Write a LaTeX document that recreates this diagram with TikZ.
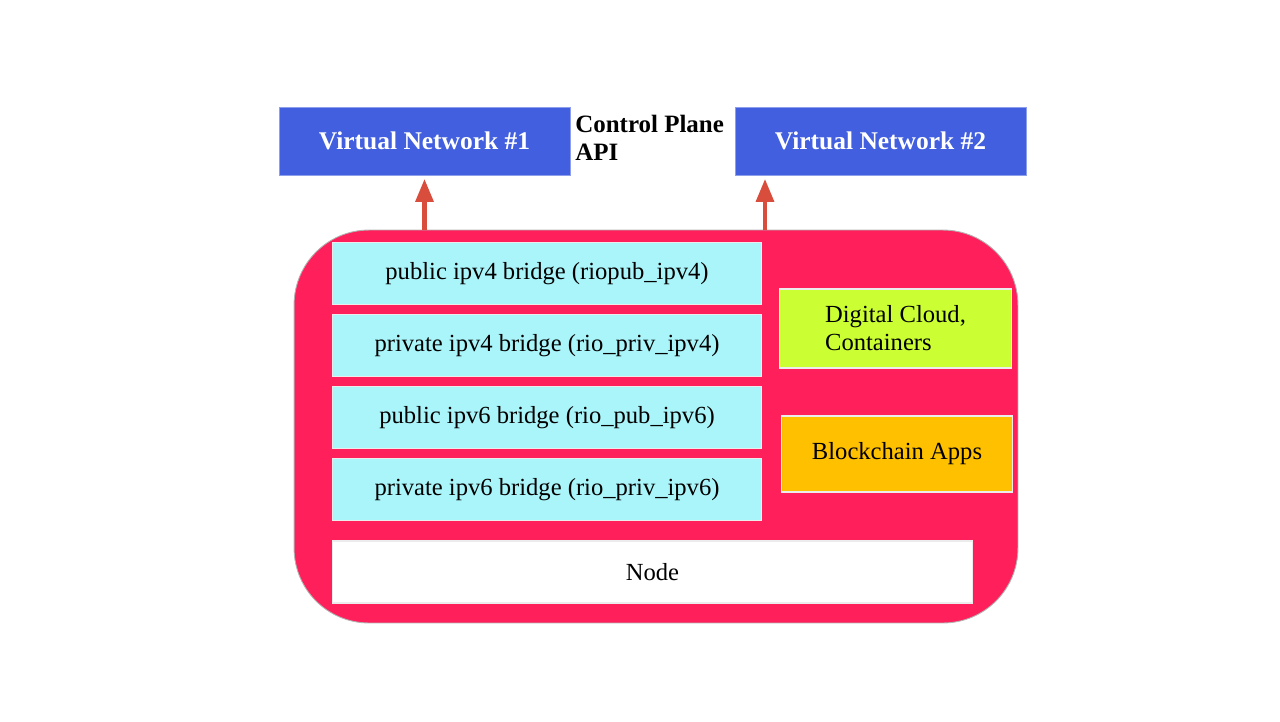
\documentclass[tikz,border=0pt]{standalone}
\usepackage{fontspec}
\setmainfont{Liberation Serif}
\usetikzlibrary{positioning,arrows.meta}

\definecolor{vnblue}{RGB}{65,95,222}
\definecolor{hostpink}{RGB}{255,31,90}
\definecolor{bridgecyan}{RGB}{170,245,250}
\definecolor{cloudlime}{RGB}{204,255,51}
\definecolor{appsorange}{RGB}{255,192,0}
\definecolor{apired}{RGB}{217,77,61}

\begin{document}
\begin{tikzpicture}[x=0.02cm,y=-0.02cm,node distance=1.44cm,on grid,
  vnet/.style={rectangle,fill=vnblue,draw=vnblue!60!white,line width=0.5pt,minimum width=5.82cm,minimum height=1.36cm,text=white,font=\fontsize{14.5}{16}\selectfont\bfseries},
  bridge/.style={rectangle,fill=bridgecyan,draw=white!85!gray,line width=0.6pt,minimum width=8.6cm,minimum height=1.24cm,font=\fontsize{14}{16}\selectfont},
  app/.style={rectangle,draw=white!85!gray,line width=0.6pt,minimum width=4.63cm,font=\fontsize{14}{16}\selectfont},
  apiarrow/.style={draw=apired,line width=2.4pt,-{Triangle[length=13pt,width=10pt]}}]
  \useasboundingbox (0,0) rectangle (1280,721);
  % top: virtual networks
  \node[vnet] (vn_1) at (424.5,141) {Virtual Network \#1};
  \node[vnet] (vn_2) at (880.5,141) {Virtual Network \#2};
  \node[anchor=north west,align=left,inner sep=0pt,font=\fontsize{14.2}{16}\selectfont\bfseries] (cp_api) at (575,115) {Control Plane\\API};
  % host box
  \node[rectangle,rounded corners=1.5cm,fill=hostpink,draw=gray!60,line width=0.5pt,minimum width=14.48cm,minimum height=7.86cm] (host) at (656,426.5) {};
  \node[bridge] (br_1) at (547,273.5) {public ipv4 bridge (riopub\_ipv4)};
  \node[bridge] (br_2) [below=of br_1] {private ipv4 bridge (rio\_priv\_ipv4)};
  \node[bridge] (br_3) [below=of br_2] {public ipv6 bridge (rio\_pub\_ipv6)};
  \node[bridge] (br_4) [below=of br_3] {private ipv6 bridge (rio\_priv\_ipv6)};
  \node[app,fill=cloudlime,minimum height=1.58cm,align=left] (cloud) at (895.5,328.5) {Digital Cloud,\\Containers};
  \node[app,fill=appsorange,minimum height=1.52cm] (apps) at (897,454) {Blockchain Apps};
  \node[rectangle,fill=white,draw=white!85!gray,line width=0.6pt,minimum width=12.82cm,minimum height=1.24cm,font=\fontsize{14}{16}\selectfont] (node) at (652.5,572) {Node};
  % control plane arrows
  \coordinate (up_2) at (765,230);
  \draw[apiarrow,shorten >=2pt] (host.north -| vn_1) -- (vn_1.south);
  \draw[apiarrow,shorten >=2pt] (up_2) -- (up_2 |- vn_2.south);
\end{tikzpicture}
\end{document}
